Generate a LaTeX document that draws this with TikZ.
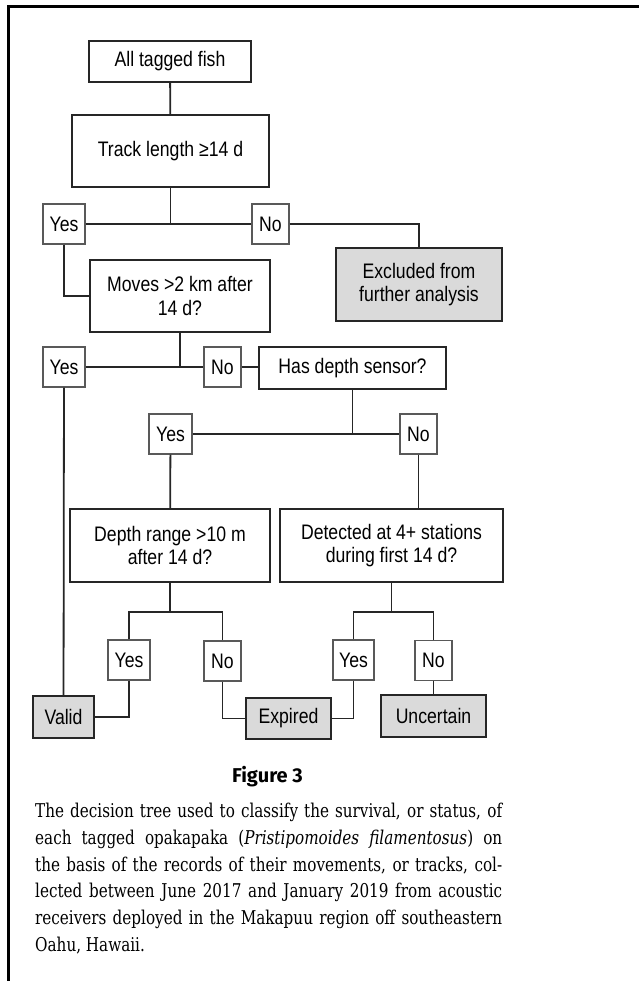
\documentclass[tikz,border=0pt]{standalone}
\usepackage{fontspec}
\usepackage{xcolor}
\newfontfamily\boxfont{Liberation Sans}[FakeStretch=0.84]
\newfontfamily\headfont{Fira Sans}
\newfontfamily\capfont{DejaVu Serif}[FakeStretch=0.8]
\definecolor{endgray}{RGB}{218,218,218}

\begin{document}
\begin{tikzpicture}[x=1pt,y=-1pt,
		qbox/.style={draw=black!85,line width=2pt,align=center,inner sep=0pt,font=\boxfont\fontsize{21}{23.5}\selectfont},
		endbox/.style={qbox,fill=endgray},
		ans/.style={draw=black!65,line width=1.3pt,inner sep=0pt,minimum height=40pt,font=\boxfont\fontsize{21}{23.5}\selectfont},
		yesbox/.style={ans,minimum width=42pt},
		nobox/.style={ans,minimum width=37pt},
		link/.style={line width=1.8pt,draw=black!85}]
		\useasboundingbox (0,0) rectangle (639,981);
		\draw[line width=2.6pt](8.7,981)--(8.7,6.7)--(639,6.7);
		\node[qbox,minimum width=162pt,minimum height=41pt](fish) at (170,61.5){All tagged fish};
		\node[qbox,minimum width=197pt,minimum height=72pt](track) at (170.5,151){Track length ≥14 d};
		\node[yesbox](yes1) at (64,224){Yes};
		\node[nobox](no1) at (270.5,224){No};
		\node[endbox,minimum width=166pt,minimum height=73pt](excl) at (419,284.5){Excluded from\\further analysis};
		\node[qbox,minimum width=180pt,minimum height=72pt](moves) at (180,296){Moves >2 km after\\14 d?};
		\node[yesbox](yes2) at (64,367){Yes};
		\node[nobox](no2) at (222.5,367){No};
		\node[qbox,minimum width=187pt,minimum height=42pt](sensor) at (352.5,368){Has depth sensor?};
		\node[yesbox,minimum width=43pt](yes3) at (170.5,434){Yes};
		\node[nobox](no3) at (418.5,434){No};
		\node[qbox,minimum width=200pt,minimum height=73pt](range) at (170,545.5){Depth range >10 m\\after 14 d?};
		\node[qbox,minimum width=223pt,minimum height=73pt](detect) at (391.5,545.5){Detected at 4+ stations\\during first 14 d?};
		\node[yesbox](yes4) at (129,660){Yes};
		\node[nobox](no4) at (222.5,661){No};
		\node[yesbox,minimum width=41pt](yes5) at (353.5,660){Yes};
		\node[nobox](no5) at (433.5,660.5){No};
		\node[endbox,minimum width=61pt,minimum height=42pt](valid) at (63.5,717){Valid};
		\node[endbox,minimum width=85pt,minimum height=41pt](expired) at (288.5,718.5){Expired};
		\node[endbox,minimum width=105pt,minimum height=42pt](uncert) at (433.5,716){Uncertain};
		\coordinate(rangejoin) at (170,612);
		\coordinate(detectjoin) at (391.5,612);
		\draw[link](fish)--(track);
		\draw[link](track)--(track|-yes1);
		\draw[link](yes1)--(no1);
		\draw[link](no1.east)-|(excl.north);
		\draw[link](yes1.south)|-(moves.west);
		\draw[link](moves)--(moves|-yes2);
		\draw[link](yes2)--(no2);
		\draw[link](no2.east)--(no2.east-|sensor.west);
		\draw[link](sensor)--(sensor|-yes3);
		\draw[link](yes3)--(no3);
		\draw[link](yes3)--(range);
		\draw[link](no3.south)--(no3.south|-detect.north);
		\draw[link](range.south)--(rangejoin);
		\draw[link](yes4.north)|-(rangejoin)-|(no4.north);
		\draw[link](detect.south)--(detectjoin);
		\draw[link](yes5.north)|-(detectjoin)-|(no5.north);
		\draw[link](yes2)--(valid);
		\draw[link](yes4.south)|-(valid.east);
		\draw[link](no4.south)|-(expired.west);
		\draw[link](yes5.south)|-(expired.east);
		\draw[link](no5)--(uncert);
		\node[font=\headfont\bfseries\fontsize{20}{24}\selectfont,anchor=base](fig) at (267.5,782.5){Figure 3};
		\node[anchor=north west,inner sep=0pt,text width=467pt,align=justify,font=\capfont\fontsize{19}{26.7}\selectfont](caption) at (35,803){The decision tree used to classify the survival, or status, of\linebreak each tagged opakapaka (\textit{Pristipomoides filamentosus}) on\linebreak the basis of the records of their movements, or tracks, col-\linebreak lected between June 2017 and January 2019 from acoustic\linebreak receivers deployed in the Makapuu region off southeastern\linebreak Oahu, Hawaii.};
		\end{tikzpicture}
\end{document}
